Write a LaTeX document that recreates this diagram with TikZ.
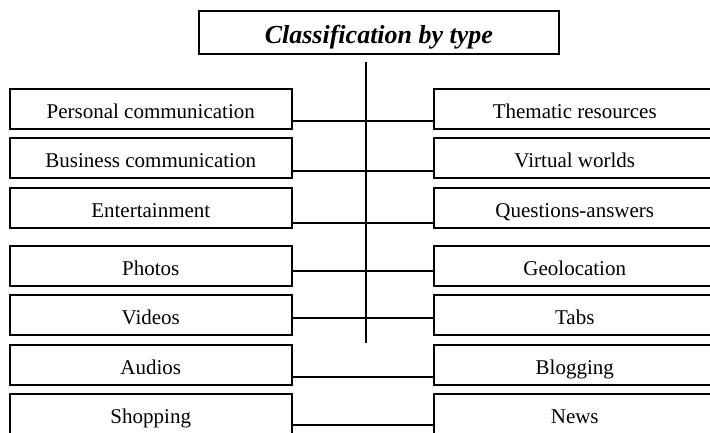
\documentclass[tikz,border=0pt]{standalone}
\usepackage{fontspec}
\setmainfont{Liberation Serif}
\begin{document}
\begin{tikzpicture}[x=1pt,y=-1pt,
  itembox/.style={draw, line width=1.5pt, rectangle, anchor=north west,
    minimum width=282pt, minimum height=40pt, inner sep=0pt,
    text height=20pt, text depth=0pt,
    font=\fontsize{21}{25}\selectfont},
  titlebox/.style={draw, line width=1.8pt, rectangle, anchor=north west,
    minimum width=360pt, minimum height=43pt, inner sep=0pt,
    text height=23pt, text depth=0pt,
    font=\fontsize{26}{30}\selectfont\bfseries\itshape},
  link/.style={line width=1.4pt}]
\useasboundingbox (0,0) rectangle (710,432);
\clip (0,0) rectangle (710,432);
\node[titlebox] (title) at (198,10) {Classification by type};
% left column
\node[itembox] (L1) at (9,88)  {Personal communication};
\node[itembox] (L2) at (9,137) {Business communication};
\node[itembox] (L3) at (9,187) {Entertainment};
\node[itembox] (L4) at (9,245) {Photos};
\node[itembox] (L5) at (9,294) {Videos};
\node[itembox] (L6) at (9,344) {Audios};
\node[itembox] (L7) at (9,393) {Shopping};
% right column
\node[itembox] (R1) at (433,88)  {Thematic resources};
\node[itembox] (R2) at (433,137) {Virtual worlds};
\node[itembox] (R3) at (433,187) {Questions-answers};
\node[itembox] (R4) at (433,245) {Geolocation};
\node[itembox] (R5) at (433,294) {Tabs};
\node[itembox] (R6) at (433,344) {Blogging};
\node[itembox] (R7) at (433,393) {News};
% trunk
\coordinate (ttop) at (366,62);
\coordinate (tbot) at (366,343);
\draw[link] (ttop) -- (tbot);
% branch levels
\coordinate (y1) at (366,121);
\coordinate (y2) at (366,171);
\coordinate (y3) at (366,223);
\coordinate (y4) at (366,271);
\coordinate (y5) at (366,318);
\coordinate (y6) at (366,377);
\coordinate (y7) at (366,425);
\draw[link] (L1.east |- y1) -- (R1.west |- y1);
\draw[link] (L2.east |- y2) -- (R2.west |- y2);
\draw[link] (L3.east |- y3) -- (R3.west |- y3);
\draw[link] (L4.east |- y4) -- (R4.west |- y4);
\draw[link] (L5.east |- y5) -- (R5.west |- y5);
\draw[link] (L6.east |- y6) -- (R6.west |- y6);
\draw[link] (L7.east |- y7) -- (R7.west |- y7);
\end{tikzpicture}
\end{document}
